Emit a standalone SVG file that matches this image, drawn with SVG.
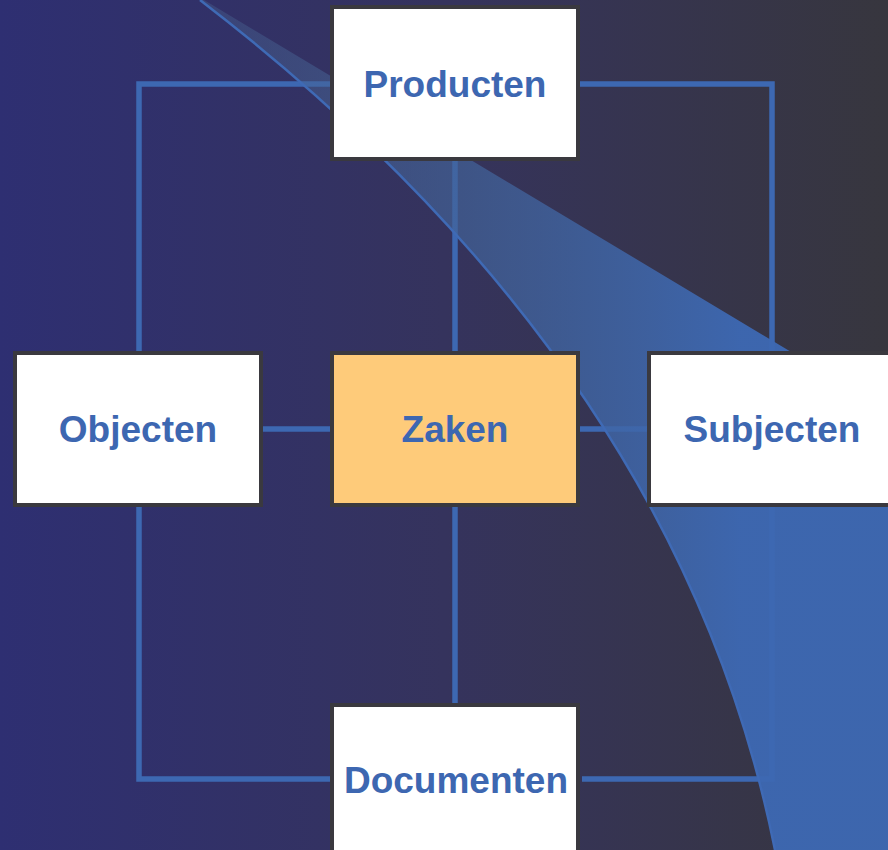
<svg xmlns="http://www.w3.org/2000/svg" width="888" height="850" viewBox="0 0 888 850">
<defs>
<linearGradient id="bg" x1="0" y1="0" x2="1" y2="0">
<stop offset="0" stop-color="#2e2f72"/>
<stop offset="0.5" stop-color="#35335d"/>
<stop offset="1" stop-color="#37363e"/>
</linearGradient>
<linearGradient id="sw" gradientUnits="userSpaceOnUse" x1="200" y1="0" x2="740" y2="0">
<stop offset="0" stop-color="#4a6592" stop-opacity="0.35"/>
<stop offset="0.5" stop-color="#426399" stop-opacity="0.7"/>
<stop offset="1" stop-color="#3d68b2" stop-opacity="0.96"/>
</linearGradient>
<style>
.conn{fill:none;stroke:#3d68b2;stroke-width:5.5}
.box{fill:#ffffff;stroke:#3a393f;stroke-width:4}
.hl{fill:#fecb7a}
.lbl{font-family:"Liberation Sans",Arial,sans-serif;font-weight:bold;font-size:37px;fill:#3d67b1;text-anchor:middle}
</style>
</defs>
<rect x="0" y="0" width="888" height="850" fill="url(#bg)"/>
<g id="connectors">
<polyline class="conn" points="330,84 139,84 139,351"/>
<polyline class="conn" points="580,84 772,84 772,351"/>
<line class="conn" x1="455" y1="161" x2="455" y2="351"/>
<line class="conn" x1="263" y1="429" x2="330" y2="429"/>
<line class="conn" x1="580" y1="429" x2="647" y2="429"/>
<line class="conn" x1="455" y1="507" x2="455" y2="703"/>
<polyline class="conn" points="139,507 139,779 330,779"/>
<polyline class="conn" points="582,779 772,779 772,507"/>
</g>
<g id="swoosh">
<path d="M200,0 Q679,368 775,850 L888,850 L888,410 L204,0 Z" fill="url(#sw)"/>
<path d="M200,0 Q679,368 775,850" fill="none" stroke="#3f6ab5" stroke-width="2.5"/>
</g>
<g id="producten">
<rect class="box" x="332" y="7" width="246" height="152"/>
<text class="lbl" x="455" y="97">Producten</text>
</g>
<g id="objecten">
<rect class="box" x="15" y="353" width="246" height="152"/>
<text class="lbl" x="138" y="442">Objecten</text>
</g>
<g id="zaken">
<rect class="box hl" x="332" y="353" width="246" height="152"/>
<text class="lbl" x="455" y="442">Zaken</text>
</g>
<g id="subjecten">
<rect class="box" x="649" y="353" width="246" height="152"/>
<text class="lbl" x="772" y="442">Subjecten</text>
</g>
<g id="documenten">
<rect class="box" x="332" y="705" width="246" height="152"/>
<text class="lbl" x="456" y="793">Documenten</text>
</g>
</svg>
